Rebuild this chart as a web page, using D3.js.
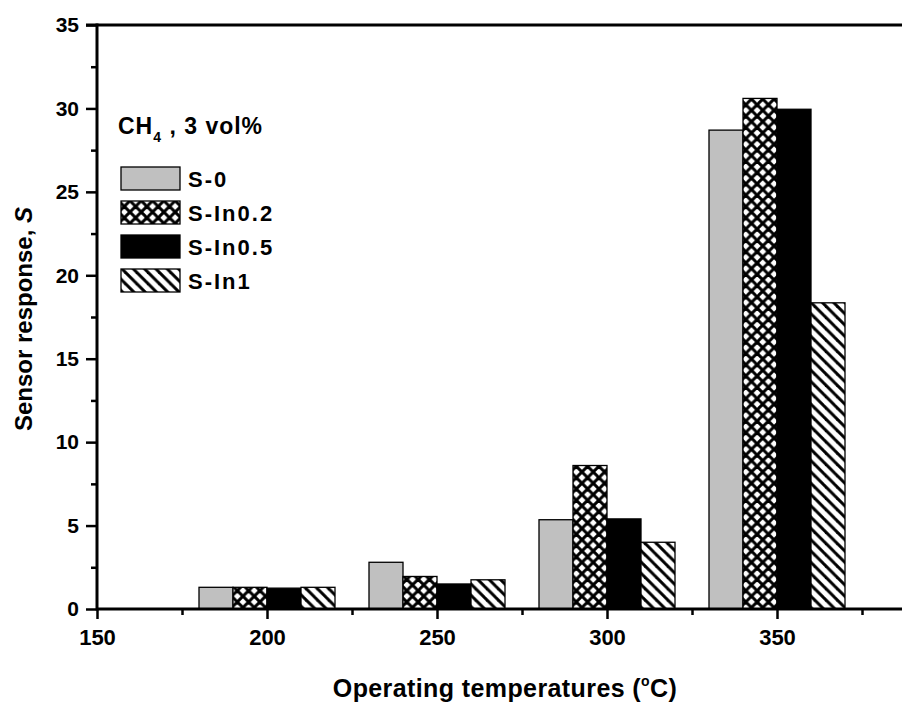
<!DOCTYPE html>
<html>
<head>
<meta charset="utf-8">
<script src="https://cdn.jsdelivr.net/npm/d3@7"></script>
<style>
  html, body { margin: 0; padding: 0; background: #fff; }
  svg { display: block; font-family: "Liberation Sans", Arial, sans-serif; font-weight: bold; }
</style>
</head>
<body>
<svg id="chart" width="902" height="704"></svg>
<script>
// Operating temperatures (°C) and sensor response per sample
const temperatures = [200, 250, 300, 350];
const seriesNames = ["S-0", "S-In0.2", "S-In0.5", "S-In1"];
const valuesS0 = [1.3, 2.8, 5.35, 28.7];
const valuesSIn02 = [1.3, 1.95, 8.6, 30.6];
const valuesSIn05 = [1.25, 1.5, 5.4, 29.95];
const valuesSIn1 = [1.3, 1.75, 4.0, 18.35];
const yTicks = [0, 5, 10, 15, 20, 25, 30, 35];
const xTicks = [150, 200, 250, 300, 350];
const barWidthUnits = 10;

const series = [valuesS0, valuesSIn02, valuesSIn05, valuesSIn1];
const fills = ["#c0c0c0", "url(#cross)", "#000", "url(#diag)"];

const svg = d3.select("#chart");

// Fill patterns
const defs = svg.append("defs");
const p = 11.3;
const cross = defs.append("pattern").attr("id", "cross")
  .attr("patternUnits", "userSpaceOnUse").attr("width", p).attr("height", p)
  .attr("x", 0).attr("y", 3);
cross.append("rect").attr("width", p).attr("height", p).attr("fill", "#fff");
[[0, 0, p, p], [-p, 0, p, 2 * p], [0, -p, 2 * p, p], [0, p, p, 0], [-p, p, p, -p], [0, 2 * p, 2 * p, 0]]
  .forEach(([x1, y1, x2, y2]) => cross.append("line")
    .attr("x1", x1).attr("y1", y1).attr("x2", x2).attr("y2", y2)
    .attr("stroke", "#000").attr("stroke-width", 3));

const diag = defs.append("pattern").attr("id", "diag")
  .attr("patternUnits", "userSpaceOnUse").attr("width", p).attr("height", p);
diag.append("rect").attr("width", p).attr("height", p).attr("fill", "#fff");
[[0, 0, p, p], [-p, 0, p, 2 * p], [0, -p, 2 * p, p]]
  .forEach(([x1, y1, x2, y2]) => diag.append("line")
    .attr("x1", x1).attr("y1", y1).attr("x2", x2).attr("y2", y2)
    .attr("stroke", "#000").attr("stroke-width", 3));

// Scales
const plotLeft = 97, plotTop = 25, plotBottom = 609;
const x = d3.scaleLinear().domain([150, 400]).range([plotLeft, plotLeft + 250 * 3.4]);
const y = d3.scaleLinear().domain([0, 35]).range([plotBottom, plotTop]);

// Bars
const bars = [];
temperatures.forEach((t, gi) => {
  series.forEach((vals, si) => {
    bars.push({ t, si, v: vals[gi] });
  });
});
svg.append("g").selectAll("rect").data(bars).join("rect")
  .attr("x", d => x(d.t - 2 * barWidthUnits + d.si * barWidthUnits))
  .attr("width", d => x(d.t - barWidthUnits + d.si * barWidthUnits) - x(d.t - 2 * barWidthUnits + d.si * barWidthUnits))
  .attr("y", d => y(d.v))
  .attr("height", d => y(0) - y(d.v))
  .attr("fill", d => fills[d.si])
  .attr("stroke", "#000")
  .attr("stroke-width", 1.3);

// Y axis
const yAxis = svg.append("g").attr("transform", `translate(${plotLeft},0)`)
  .call(d3.axisLeft(y).tickValues(yTicks).tickSize(11).tickPadding(7));
const yMinor = svg.append("g").attr("transform", `translate(${plotLeft},0)`)
  .call(d3.axisLeft(y).tickValues(d3.range(2.5, 35, 5)).tickSize(6).tickFormat(""));

// X axis
const xAxis = svg.append("g").attr("transform", `translate(0,${plotBottom})`)
  .call(d3.axisBottom(x).tickValues(xTicks).tickSize(10).tickPadding(10).tickFormat(d3.format("d")));
const xMinor = svg.append("g").attr("transform", `translate(0,${plotBottom})`)
  .call(d3.axisBottom(x).tickValues(d3.range(175, 400, 50)).tickSize(6).tickFormat(""));

[yAxis, yMinor, xAxis, xMinor].forEach(g => {
  g.select(".domain").remove();
  g.selectAll("line").attr("stroke", "#000").attr("stroke-width", 2.5);
});
yAxis.selectAll("text").attr("font-size", 21).attr("fill", "#000")
  .attr("font-family", "Liberation Sans, Arial, sans-serif").attr("font-weight", "bold");
xAxis.selectAll("text").attr("font-size", 22).attr("fill", "#000")
  .attr("font-family", "Liberation Sans, Arial, sans-serif").attr("font-weight", "bold");

// Frame lines: left, bottom, top
svg.append("line").attr("x1", plotLeft).attr("x2", plotLeft).attr("y1", plotTop - 1.5).attr("y2", plotBottom + 1.5)
  .attr("stroke", "#000").attr("stroke-width", 3);
svg.append("line").attr("x1", plotLeft).attr("x2", 902).attr("y1", plotBottom).attr("y2", plotBottom)
  .attr("stroke", "#000").attr("stroke-width", 3);
svg.append("line").attr("x1", plotLeft - 11).attr("x2", 902).attr("y1", plotTop).attr("y2", plotTop)
  .attr("stroke", "#000").attr("stroke-width", 3);

// Axis titles
const xt = svg.append("text").attr("x", 505).attr("y", 697).attr("text-anchor", "middle")
  .attr("font-size", 25).attr("letter-spacing", 0.4);
xt.append("tspan").text("Operating temperatures (");
xt.append("tspan").attr("font-size", 14).attr("dy", -11).text("o");
xt.append("tspan").attr("dy", 11).text("C)");

const yt = svg.append("text").attr("transform", "translate(32,319) rotate(-90)")
  .attr("text-anchor", "middle").attr("font-size", 24);
yt.append("tspan").text("Sensor response, ");
yt.append("tspan").attr("font-style", "italic").text("S");

// Legend
const lg = svg.append("g");
const title = lg.append("text").attr("x", 118).attr("y", 134).attr("font-size", 23)
  .attr("letter-spacing", 1);
title.append("tspan").text("CH");
title.append("tspan").attr("font-size", 14).attr("dy", 8).text("4");
title.append("tspan").attr("dy", -8).text(" , 3 vol%");

seriesNames.forEach((name, i) => {
  const yy = 167 + i * 34;
  lg.append("rect").attr("x", 121).attr("y", yy).attr("width", 59).attr("height", 23)
    .attr("fill", fills[i]).attr("stroke", "#000").attr("stroke-width", 1.3);
  lg.append("text").attr("x", 188).attr("y", yy + 20).attr("font-size", 22)
    .attr("letter-spacing", 2).text(name);
});
</script>
</body>
</html>
